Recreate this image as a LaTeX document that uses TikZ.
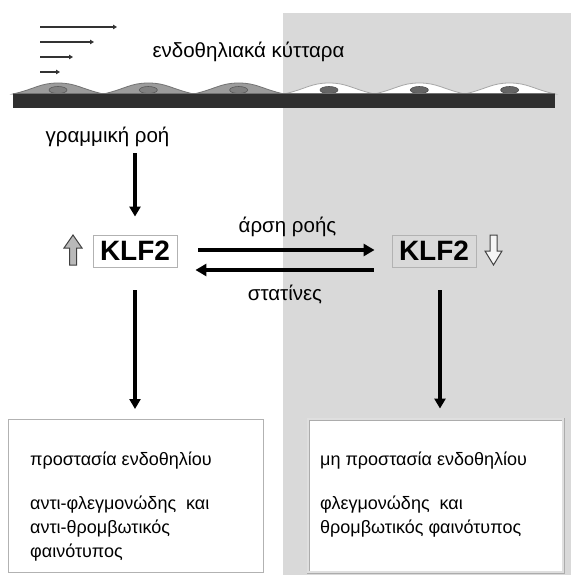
\documentclass[tikz,border=0pt]{standalone}
\usepackage{fontspec}
\setmainfont{Liberation Sans}
\usetikzlibrary{arrows.meta,calc}
\definecolor{panelgray}{HTML}{D9D9D9}
\definecolor{cellgray}{HTML}{9C9C9C}
\definecolor{membrane}{HTML}{2F2F2F}
\begin{document}
\begin{tikzpicture}[x=1pt,y=-1pt,
  lbl/.style={font=\fontsize{20.5}{24}\selectfont, inner sep=0pt},
  klfbox/.style={draw=gray!60, line width=0.9pt, minimum width=84pt,
    minimum height=32pt, inner sep=0pt,
    font=\fontsize{28}{30}\selectfont\bfseries},
  bigarrow/.style={line width=4pt, -{Triangle[length=11pt,width=12pt]}},
  downarrow/.style={line width=3.2pt, -{Triangle[length=10pt,width=11pt]}},
  flowarrow/.style={line width=1.1pt, draw=black!80,
    -{Triangle[length=4pt,width=4.5pt]}},
  panel/.style={draw=gray!60, line width=1pt, fill=white,
    minimum width=255pt, minimum height=153pt, inner sep=0pt},
  panelshade/.style={panel, draw=gray!65, double=gray!25,
    double distance=1.2pt, line width=0.9pt},
  paneltext/.style={font=\fontsize{18}{24}\selectfont, align=left,
    anchor=north west, inner sep=0pt},
  blockarrow/.style={draw=black!75, line width=1pt, line join=miter},
  cellA/.style={fill=cellgray, draw=black!55, line width=0.8pt},
  cellB/.style={fill=white, draw=gray!70, line width=0.8pt},
]
\useasboundingbox (0,0) rectangle (571,575);
\fill[white] (0,0) rectangle (571,575);
% right half: the region without flow
\fill[panelgray] (283,13) rectangle (571,575);

% laminar flow profile
\draw[flowarrow] (40,27) -- (117,27);
\draw[flowarrow] (40,42) -- (94,42);
\draw[flowarrow] (40,57) -- (73,57);
\draw[flowarrow] (40,72) -- (60,72);

\node[lbl] (cells) at (248.5,52) {ενδοθηλιακά κύτταρα};

% endothelial monolayer on the basement membrane
\foreach \i in {0,1,2}{
  \pgfmathsetmacro\xa{13+90.33*\i}
  \pgfmathsetmacro\xb{\xa+90.33}
  \pgfmathsetmacro\xc{\xa+45}
  \draw[cellA] (\xa,94) .. controls (\xa+22,89) and (\xc-18,83) .. (\xc,83)
    .. controls (\xc+18,83) and (\xb-22,89) .. (\xb,94) -- cycle;
  \draw[fill=black!50, draw=black!65, line width=0.6pt] (\xc,90) ellipse [x radius=9, y radius=3.5];
}
\foreach \i in {3,4,5}{
  \pgfmathsetmacro\xa{13+90.33*\i}
  \pgfmathsetmacro\xb{\xa+90.33}
  \pgfmathsetmacro\xc{\xa+45}
  \draw[cellB] (\xa,94) .. controls (\xa+22,89) and (\xc-18,83) .. (\xc,83)
    .. controls (\xc+18,83) and (\xb-22,89) .. (\xb,94) -- cycle;
  \draw[fill=black!60, draw=black!70, line width=0.6pt] (\xc,90) ellipse [x radius=9, y radius=3.5];
}
\fill[membrane] (13,93) rectangle (555,108);
\fill[black!55] (13,93) rectangle (555,94.5);

\node[lbl] (flow) at (107.5,137) {γραμμική ροή};

\node[klfbox, fill=white] (klfL) at (135,251) {KLF2};
\node[klfbox] (klfR) at (434,251) {KLF2};

% up / down block arrows beside KLF2
\draw[blockarrow, fill=gray!55] (73,235) -- (82,248) -- (76.5,248) -- (76.5,265)
  -- (69.5,265) -- (69.5,248) -- (64,248) -- cycle;
\draw[blockarrow, fill=white!92!gray] (490,235) -- (497,235) -- (497,251) -- (502,251)
  -- (493.5,265) -- (485,251) -- (490,251) -- cycle;

\node[lbl] (lift) at (287.5,227) {άρση ροής};
\node[lbl] (statin) at (285,295) {στατίνες};

\node[panel] (protL) at (135.5,496) {};
\node[panelshade] (protR) at (435.5,495.5) {};

\node[paneltext] (txtL) at (30,451.5) {προστασία ενδοθηλίου\\[20pt]
  αντι-φλεγμονώδης\ \ και\\ αντι-θρομβωτικός\\ φαινότυπος};
\node[paneltext] (txtR) at (320,451.5) {μη προστασία ενδοθηλίου\\[20pt]
  φλεγμονώδης\ \ και\\ θρομβωτικός φαινότυπος};

% connectors
\draw[downarrow] ($(klfL.north |- flow.south)+(0,6)$) -- ($(klfL.north)+(0,-18)$);
\draw[bigarrow] ($(klfL.east)+(21,-1)$) -- ($(klfR.west)+(-17,-1)$);
\draw[bigarrow] ($(klfR.west)+(-18,19)$) -- ($(klfL.east)+(18,19)$);
\draw[downarrow] ($(klfL.south)+(0,23)$) -- ($(klfL.south |- protL.north)+(0,-10)$);
\draw[downarrow] ($(klfR.south)+(6,23)$) -- ($(klfR.south |- protR.north)+(6,-10)$);
\end{tikzpicture}
\end{document}
